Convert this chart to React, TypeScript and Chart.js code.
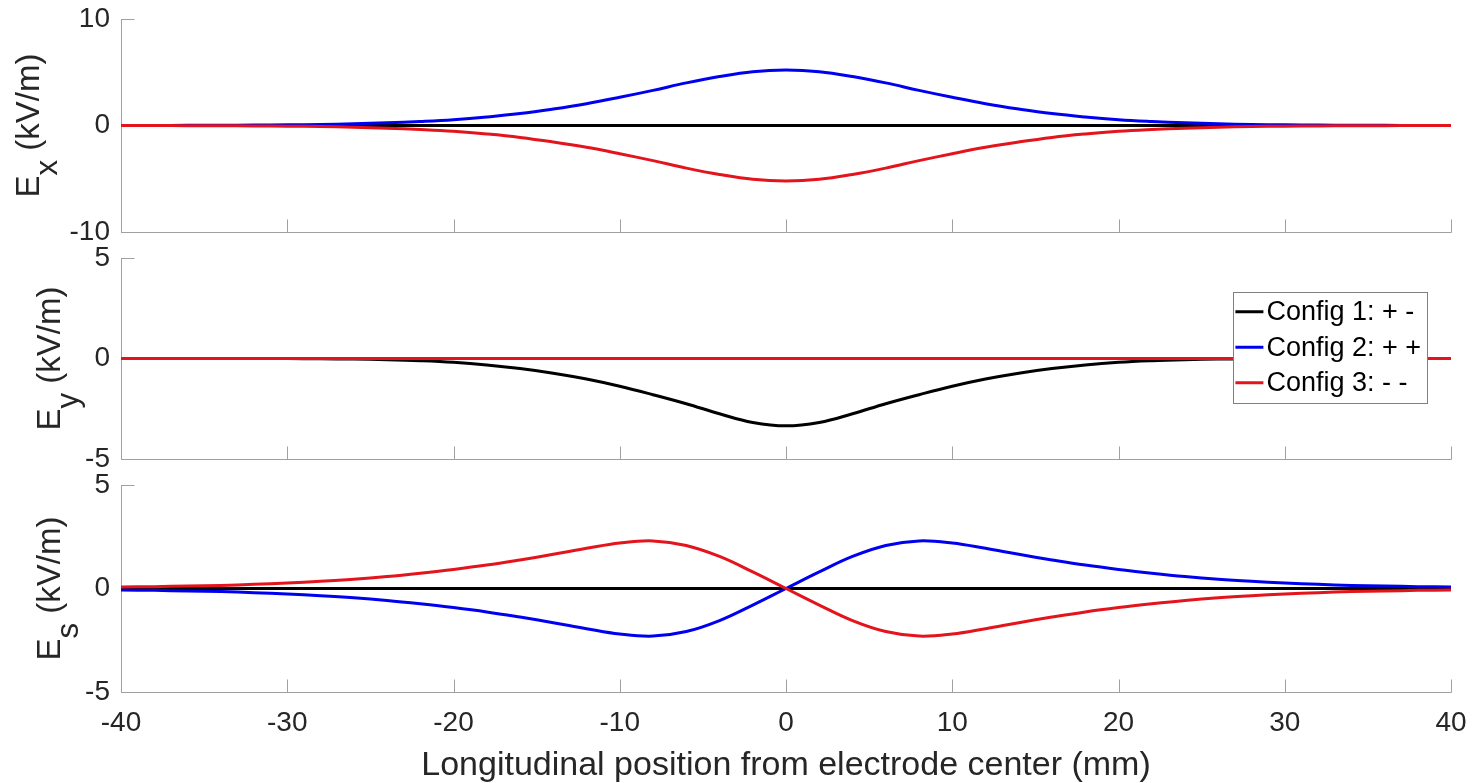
import React, { useEffect, useRef } from 'react';
import { Chart, registerables } from 'chart.js';

Chart.register(...registerables);

// ---------------- data ----------------
const xPositions = [
  -40, -38, -36, -34, -32, -30, -28, -26, -24, -22, -20, -18, -16, -14, -12, -10, -8, -6, -4, -2,
  0, 2, 4, 6, 8, 10, 12, 14, 16, 18, 20, 22, 24, 26, 28, 30, 32, 34, 36, 38, 40,
];

const seriesLabels = ['Config 1: + -', 'Config 2: + +', 'Config 3: - -'];
const seriesColors = ['#000000', '#0000f0', '#e3141c'];

const xTickValues = [-40, -30, -20, -10, 0, 10, 20, 30, 40];
const xAxisTitle = 'Longitudinal position from electrode center (mm)';

// E_x panel
const exConfig1 = [
  0, 0, 0, 0, 0, 0, 0, 0, 0, 0, 0, 0, 0, 0, 0, 0, 0, 0, 0, 0,
  0, 0, 0, 0, 0, 0, 0, 0, 0, 0, 0, 0, 0, 0, 0, 0, 0, 0, 0, 0, 0,
];
const exConfig2 = [
  0.004, 0.008, 0.015, 0.025, 0.04, 0.06, 0.1, 0.16, 0.25, 0.38, 0.55, 0.8, 1.12, 1.55, 2.05, 2.65, 3.3, 4.0, 4.6, 5.05,
  5.2, 5.05, 4.6, 4.0, 3.3, 2.65, 2.05, 1.55, 1.12, 0.8, 0.55, 0.38, 0.25, 0.16, 0.1, 0.06, 0.04, 0.025, 0.015, 0.008, 0.004,
];
const exConfig3 = [
  -0.004, -0.008, -0.015, -0.025, -0.04, -0.06, -0.1, -0.16, -0.25, -0.38, -0.55, -0.8, -1.12, -1.55, -2.05, -2.65, -3.3, -4.0, -4.6, -5.05,
  -5.2, -5.05, -4.6, -4.0, -3.3, -2.65, -2.05, -1.55, -1.12, -0.8, -0.55, -0.38, -0.25, -0.16, -0.1, -0.06, -0.04, -0.025, -0.015, -0.008, -0.004,
];

// E_y panel
const eyConfig1 = [
  0, 0, 0, 0, 0, -0.005, -0.015, -0.03, -0.06, -0.11, -0.19, -0.32, -0.5, -0.73, -1.02, -1.38, -1.8, -2.25, -2.75, -3.18,
  -3.35, -3.18, -2.75, -2.25, -1.8, -1.38, -1.02, -0.73, -0.5, -0.32, -0.19, -0.11, -0.06, -0.03, -0.015, -0.005, 0, 0, 0, 0, 0,
];
const eyConfig2 = [
  0, 0, 0, 0, 0, 0, 0, 0, 0, 0, 0, 0, 0, 0, 0, 0, 0, 0, 0, 0,
  0, 0, 0, 0, 0, 0, 0, 0, 0, 0, 0, 0, 0, 0, 0, 0, 0, 0, 0, 0, 0,
];
const eyConfig3 = [
  0, 0, 0, 0, 0, 0, 0, 0, 0, 0, 0, 0, 0, 0, 0, 0, 0, 0, 0, 0,
  0, 0, 0, 0, 0, 0, 0, 0, 0, 0, 0, 0, 0, 0, 0, 0, 0, 0, 0, 0, 0,
];

// E_s panel
const esConfig1 = [
  0, 0, 0, 0, 0, 0, 0, 0, 0, 0, 0, 0, 0, 0, 0, 0, 0, 0, 0, 0,
  0, 0, 0, 0, 0, 0, 0, 0, 0, 0, 0, 0, 0, 0, 0, 0, 0, 0, 0, 0, 0,
];
const esConfig2 = [
  -0.07, -0.09, -0.12, -0.15, -0.2, -0.27, -0.35, -0.45, -0.58, -0.74, -0.92, -1.13, -1.38, -1.65, -1.94, -2.2, -2.3, -2.08, -1.55, -0.8,
  0, 0.8, 1.55, 2.08, 2.3, 2.2, 1.94, 1.65, 1.38, 1.13, 0.92, 0.74, 0.58, 0.45, 0.35, 0.27, 0.2, 0.15, 0.12, 0.09, 0.07,
];
const esConfig3 = [
  0.07, 0.09, 0.12, 0.15, 0.2, 0.27, 0.35, 0.45, 0.58, 0.74, 0.92, 1.13, 1.38, 1.65, 1.94, 2.2, 2.3, 2.08, 1.55, 0.8,
  0, -0.8, -1.55, -2.08, -2.3, -2.2, -1.94, -1.65, -1.38, -1.13, -0.92, -0.74, -0.58, -0.45, -0.35, -0.27, -0.2, -0.15, -0.12, -0.09, -0.07,
];

const panelYTicks = [
  [-10, 0, 10],
  [-5, 0, 5],
  [-5, 0, 5],
];
const panelSubscripts = ['x', 'y', 's'];
const yTitleMain = 'E';
const yTitleUnit = ' (kV/m)';

// ---------------- styling / layout ----------------
const W = 1472;
const H = 783;
const FONT = "'Liberation Sans', Arial, Helvetica, sans-serif";
const TEXT_COLOR = '#262626';
const AXIS_COLOR = '#a0a0a0';
const PLOT_LEFT = 121;
const PLOT_RIGHT = 1451;

const panels = [
  { top: 19, bottom: 232, series: [exConfig1, exConfig2, exConfig3], titleX: 39, showX: false, legend: false },
  { top: 258, bottom: 459, series: [eyConfig1, eyConfig2, eyConfig3], titleX: 60, showX: false, legend: true },
  { top: 485, bottom: 692, series: [esConfig1, esConfig2, esConfig3], titleX: 60, showX: true, legend: false },
];

const axesPlugin = {
  id: 'matlabAxes',
  beforeDatasetsDraw(chart: any) {
    const { ctx, chartArea } = chart;
    const { left, right, top, bottom } = chartArea;
    const xs = chart.scales.x;
    const ys = chart.scales.y;
    const tick = 13;
    ctx.save();
    ctx.strokeStyle = AXIS_COLOR;
    ctx.lineWidth = 1;
    ctx.beginPath();
    const lx = Math.round(left) + 0.5;
    const by = Math.round(bottom) + 0.5;
    ctx.moveTo(lx, top);
    ctx.lineTo(lx, by);
    ctx.lineTo(right + 0.5, by);
    xs.ticks.forEach((t: any) => {
      const px = Math.round(xs.getPixelForValue(t.value)) + 0.5;
      ctx.moveTo(px, by);
      ctx.lineTo(px, by - tick);
    });
    ys.ticks.forEach((t: any) => {
      const py = Math.round(ys.getPixelForValue(t.value)) + 0.5;
      ctx.moveTo(lx, py);
      ctx.lineTo(lx + tick, py);
    });
    ctx.stroke();
    ctx.restore();
  },
};

const yTitlePlugin = {
  id: 'subTitleY',
  afterDraw(chart: any, _args: any, opts: any) {
    const { ctx, chartArea } = chart;
    const size = opts.size;
    const subSize = size * 0.95;
    const cy = (chartArea.top + chartArea.bottom) / 2;
    ctx.save();
    ctx.translate(opts.baselineX, cy);
    ctx.rotate(-Math.PI / 2);
    ctx.fillStyle = TEXT_COLOR;
    ctx.textBaseline = 'alphabetic';
    ctx.textAlign = 'left';
    ctx.font = `${size}px ${FONT}`;
    const wMain = ctx.measureText(opts.main).width;
    const wUnit = ctx.measureText(opts.unit).width;
    ctx.font = `${subSize}px ${FONT}`;
    const wSub = ctx.measureText(opts.sub).width;
    const total = wMain + wSub + wUnit;
    const x0 = -total / 2;
    ctx.font = `${size}px ${FONT}`;
    ctx.fillText(opts.main, x0, 0);
    ctx.font = `${subSize}px ${FONT}`;
    ctx.fillText(opts.sub, x0 + wMain, size * 0.55);
    ctx.font = `${size}px ${FONT}`;
    ctx.fillText(opts.unit, x0 + wMain + wSub, 0);
    ctx.restore();
  },
};

const boxLegendPlugin = {
  id: 'boxLegend',
  afterDatasetsDraw(chart: any, _args: any, opts: any) {
    if (!opts.display) return;
    const { ctx, chartArea } = chart;
    const size = opts.size;
    ctx.save();
    ctx.font = `${size}px ${FONT}`;
    const datasets = chart.data.datasets;
    let maxW = 0;
    datasets.forEach((d: any) => {
      maxW = Math.max(maxW, ctx.measureText(d.label).width);
    });
    const lineLen = 28;
    const rowH = 35.5;
    const boxW = 2 + lineLen + 3 + maxW + 6;
    const boxH = rowH * datasets.length + 4;
    const right = chartArea.right - opts.rightInset;
    const left = right - boxW;
    const top = chartArea.top + opts.topInset;
    ctx.fillStyle = '#ffffff';
    ctx.fillRect(left, top, boxW, boxH);
    ctx.strokeStyle = '#808080';
    ctx.lineWidth = 1;
    ctx.strokeRect(Math.round(left) + 0.5, Math.round(top) + 0.5, Math.round(boxW), Math.round(boxH));
    datasets.forEach((d: any, i: number) => {
      const cy = top + 2 + rowH * (i + 0.5);
      ctx.strokeStyle = d.borderColor;
      ctx.lineWidth = 3;
      ctx.beginPath();
      ctx.moveTo(left + 2, cy);
      ctx.lineTo(left + 2 + lineLen, cy);
      ctx.stroke();
      ctx.fillStyle = '#000000';
      ctx.textBaseline = 'middle';
      ctx.textAlign = 'left';
      ctx.fillText(d.label, left + 2 + lineLen + 3, cy + 1);
    });
    ctx.restore();
  },
};

function buildConfig(idx: number): any {
  const p = panels[idx];
  const yt = panelYTicks[idx];
  const datasets = seriesLabels.map((label, i) => ({
    label,
    data: xPositions.map((x, j) => ({ x, y: p.series[i][j] })),
    borderColor: seriesColors[i],
    backgroundColor: seriesColors[i],
    borderWidth: 3,
    pointRadius: 0,
    fill: false,
    tension: 0.4,
    order: seriesLabels.length - 1 - i,
  }));
  return {
    type: 'line',
    data: { datasets },
    plugins: [axesPlugin, yTitlePlugin, boxLegendPlugin],
    options: {
      animation: false,
      responsive: false,
      maintainAspectRatio: false,
      events: [],
      layout: {
        padding: {
          left: 0,
          right: W - PLOT_RIGHT,
          top: p.top,
          bottom: p.showX ? 0 : H - p.bottom,
        },
      },
      plugins: {
        legend: { display: false },
        tooltip: { enabled: false },
        title: { display: false },
        subTitleY: { size: 33, baselineX: p.titleX, main: yTitleMain, sub: panelSubscripts[idx], unit: yTitleUnit },
        boxLegend: { display: p.legend, size: 27, rightInset: 24, topInset: 34 },
      },
      scales: {
        x: {
          type: 'linear',
          min: xTickValues[0],
          max: xTickValues[xTickValues.length - 1],
          afterBuildTicks: (scale: any) => {
            scale.ticks = xTickValues.map((v) => ({ value: v }));
          },
          afterFit: (scale: any) => {
            scale.height = p.showX ? H - p.bottom : 0;
            scale.paddingLeft = 0;
            scale.paddingRight = 0;
          },
          ticks: {
            display: p.showX,
            autoSkip: false,
            maxRotation: 0,
            padding: 14,
            color: TEXT_COLOR,
            font: { family: FONT, size: 28 },
          },
          grid: { display: false, drawTicks: false },
          border: { display: false },
          title: {
            display: p.showX,
            text: xAxisTitle,
            color: TEXT_COLOR,
            font: { family: FONT, size: 34, lineHeight: 1.0 },
            padding: { top: 0, bottom: 0 },
          },
        },
        y: {
          type: 'linear',
          min: yt[0],
          max: yt[yt.length - 1],
          afterBuildTicks: (scale: any) => {
            scale.ticks = yt.map((v) => ({ value: v }));
          },
          afterFit: (scale: any) => {
            scale.width = PLOT_LEFT;
            scale.paddingTop = 0;
            scale.paddingBottom = 0;
          },
          ticks: {
            padding: 11,
            autoSkip: false,
            color: TEXT_COLOR,
            font: { family: FONT, size: 28 },
          },
          grid: { display: false, drawTicks: false },
          border: { display: false },
        },
      },
    },
  };
}

function Panel({ idx }: { idx: number }) {
  const ref = useRef<HTMLCanvasElement | null>(null);
  useEffect(() => {
    if (!ref.current) return;
    const chart = new Chart(ref.current, buildConfig(idx));
    return () => chart.destroy();
  }, [idx]);
  return (
    <canvas
      ref={ref}
      width={W}
      height={H}
      style={{ position: 'absolute', left: 0, top: 0, width: W, height: H }}
    />
  );
}

export default function App() {
  return (
    <div style={{ position: 'fixed', left: 0, top: 0, width: W, height: H, background: '#ffffff', overflow: 'hidden' }}>
      {panels.map((_, i) => (
        <Panel key={i} idx={i} />
      ))}
    </div>
  );
}
